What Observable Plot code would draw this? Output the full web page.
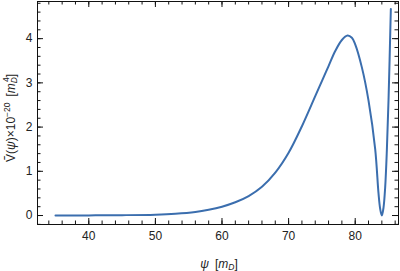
<!DOCTYPE html>
<html>
<head>
<meta charset="utf-8">
<script src="https://cdn.jsdelivr.net/npm/d3@7"></script>
<script src="https://cdn.jsdelivr.net/npm/@observablehq/plot@0.6"></script>
<style>
  html, body { margin: 0; padding: 0; background: #fff; }
  svg { display: block; }
</style>
</head>
<body>
<div id="chart"></div>
<script>
// Data
const psi = [35, 40, 45, 50, 53, 56, 58, 60, 62, 64, 66, 68, 70, 72, 74, 75, 76, 77, 78, 78.85, 79.5, 80, 81, 82, 83, 83.5, 83.75, 84.0, 84.25, 84.5, 84.75, 85.0, 85.35];
const V   = [0.0, 0.003, 0.008, 0.02, 0.04, 0.08, 0.13, 0.2, 0.3, 0.44, 0.65, 0.97, 1.42, 2.02, 2.7, 3.04, 3.38, 3.72, 3.97, 4.07, 4.02, 3.87, 3.35, 2.6, 1.5, 0.5, 0.15, 0.0, 0.18, 0.64, 1.47, 2.6, 4.67];
const xMajor = [40, 50, 60, 70, 80];
const xMinor = d3.range(34, 87, 2);
const yMajor = [0, 1, 2, 3, 4];
const yMinor = d3.range(-0.2, 4.81, 0.2).map(v => +v.toFixed(1));

const data = psi.map((p, i) => ({psi: p, V: V[i]}));

const W = 400, H = 271;
const mTop = 1, mBottom = 47, mLeft = 37, mRight = 2;
const xDom = [32.3, 86.5], yDom = [-0.203, 4.84];
const kx = (W - mLeft - mRight) / (xDom[1] - xDom[0]);   // px per x unit
const ky = (H - mTop - mBottom) / (yDom[1] - yDom[0]);   // px per y unit
const font = "'Liberation Sans', Arial, sans-serif";
const tc = "#222";
const tk = "#111";

// inward ticks on all four frame sides (lengths in pixels)
const inTicksX = (vals, len) => [
  Plot.ruleX(vals, {x: d => d, y1: yDom[0], y2: yDom[0] + len / ky, stroke: tk, strokeWidth: 1}),
  Plot.ruleX(vals, {x: d => d, y1: yDom[1], y2: yDom[1] - len / ky, stroke: tk, strokeWidth: 1})
];
const inTicksY = (vals, len) => [
  Plot.ruleY(vals, {y: d => d, x1: xDom[0], x2: xDom[0] + len / kx, stroke: tk, strokeWidth: 1}),
  Plot.ruleY(vals, {y: d => d, x1: xDom[1], x2: xDom[1] - len / kx, stroke: tk, strokeWidth: 1})
];

const chart = Plot.plot({
  width: W, height: H,
  marginTop: mTop, marginBottom: mBottom, marginLeft: mLeft, marginRight: mRight,
  style: {fontFamily: font, fontSize: "12px", color: tc, background: "#fff"},
  x: {domain: xDom},
  y: {domain: yDom},
  marks: [
    Plot.line(data, {x: "psi", y: "V", stroke: "#3b6eae", strokeWidth: 2, curve: "catmull-rom"}),
    ...inTicksX(xMinor, 3.5),
    ...inTicksX(xMajor, 6),
    ...inTicksY(yMinor, 3.5),
    ...inTicksY(yMajor, 6),
    Plot.frame({stroke: tk, strokeWidth: 1}),
    Plot.axisX(xMajor, {tickSize: 0, tickPadding: 7, label: null, fontSize: 12, fill: tc}),
    Plot.axisY(yMajor, {tickSize: 0, tickPadding: 5, label: null, fontSize: 12, fill: tc})
  ]
});

document.getElementById("chart").appendChild(chart);

// Axis titles with sub/superscripts
const svg = d3.select(chart);
const xt = svg.append("text")
  .attr("x", 219).attr("y", 268)
  .attr("text-anchor", "middle")
  .attr("font-family", font).attr("font-size", 12).attr("fill", tc);
xt.append("tspan").attr("font-style", "italic").text("ψ");
xt.append("tspan").text("\u2002[");
xt.append("tspan").attr("font-style", "italic").text("m");
xt.append("tspan").attr("font-style", "italic").attr("font-size", 8.5).attr("dy", 2).text("D");
xt.append("tspan").attr("dy", -2).text("]");

const yt = svg.append("text")
  .attr("transform", "translate(15,118) rotate(-90)")
  .attr("text-anchor", "middle")
  .attr("font-family", font).attr("font-size", 12).attr("fill", tc);
yt.append("tspan").text("Ṽ(");
yt.append("tspan").attr("font-style", "italic").text("ψ");
yt.append("tspan").text(")×10");
yt.append("tspan").attr("font-size", 8.5).attr("dy", -5).text("−20");
yt.append("tspan").attr("dy", 5).text("\u2002[");
yt.append("tspan").attr("font-style", "italic").text("m");
yt.append("tspan").attr("font-style", "italic").attr("font-size", 8.5).attr("dy", 2).text("D");
yt.append("tspan").attr("font-size", 8.5).attr("dy", -8).attr("dx", -5).text("4");
yt.append("tspan").attr("dy", 6).text("]");
</script>
</body>
</html>
